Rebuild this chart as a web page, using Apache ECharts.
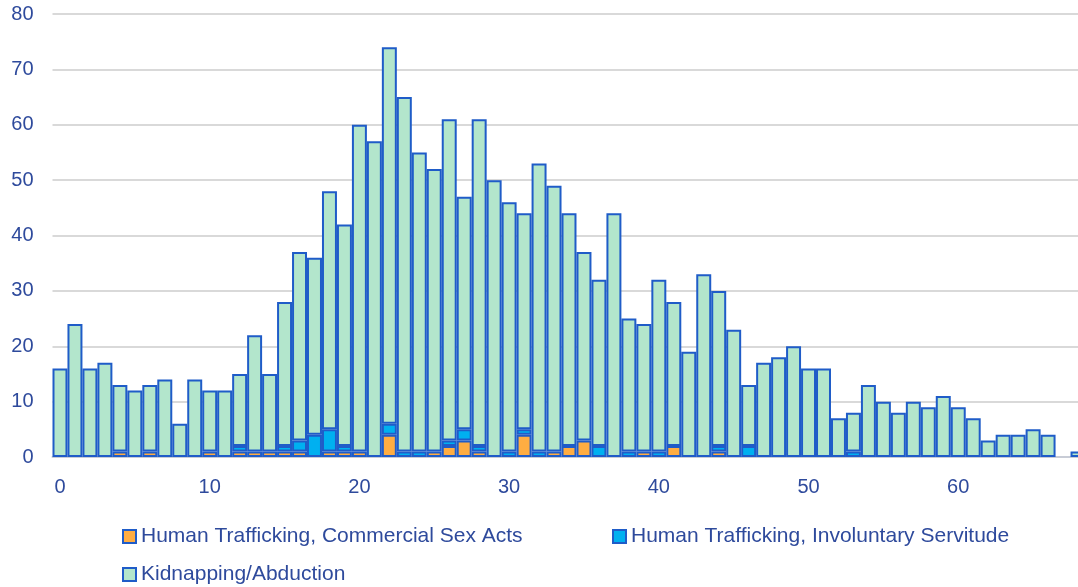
<!DOCTYPE html>
<html>
<head>
<meta charset="utf-8">
<script src="https://cdn.jsdelivr.net/npm/echarts@6/dist/echarts.min.js"></script>
<style>
html,body{margin:0;padding:0;background:#fff;overflow:hidden;width:1078px;height:587px;}
#chart{width:1090px;height:587px;}
</style>
</head>
<body>
<div id="chart"></div>
<script>
const ages = [];
for (let a = 0; a <= 68; a++) ages.push(String(a));
const xTickLabels = ['0', '10', '20', '30', '40', '50', '60'];
const seriesNames = ['Human Trafficking, Commercial Sex Acts', 'Human Trafficking, Involuntary Servitude', 'Kidnapping/Abduction'];
const sexActs = [0,0,0,0,1,0,1,0,0,0, 1,0,1,1,1,1,1,0,1,1, 1,0,4,0,0,1,2,3,1,0, 0,4,0,1,2,3,0,0,0,1, 0,2,0,0,1,0,0,0,0,0, 0,0,0,0,0,0,0,0,0,0, 0,0,0,0,0,0,0,0,0];
const servitude = [0,0,0,0,0,0,0,0,0,0, 0,0,1,0,0,1,2,4,4,1, 0,0,2,1,1,0,1,2,1,0, 1,1,1,0,0,0,2,0,1,0, 1,0,0,0,1,0,2,0,0,0, 0,0,0,1,0,0,0,0,0,0, 0,0,0,0,0,0,0,0,0];
const kidnapping = [16,24,16,17,12,12,12,14,6,14, 11,12,13,21,14,26,34,32,43,40, 59,57,68,64,54,51,58,42,59,50, 45,39,52,48,42,34,30,44,24,23, 31,26,19,33,28,23,11,17,18,20, 16,16,7,7,13,10,8,10,9,11, 9,7,3,4,4,5,4,0,1];

const colors = ['#FFAD42', '#00B0F0', '#B3E6CC'];
const borderColor = '#1F5CC8';
const textColor = '#2E4A9C';
const font = 'Liberation Sans, Arial, sans-serif';

const allData = [sexActs, servitude, kidnapping];

const chart = echarts.init(document.getElementById('chart'), null, {renderer: 'canvas'});
chart.setOption({
  animation: false,
  grid: {left: 52.5, width: 1033, top: 14, bottom: 130, containLabel: false},
  xAxis: {
    type: 'category', data: ages, boundaryGap: true,
    axisLine: {show: true, lineStyle: {color: '#c8ccd6', width: 2}},
    axisTick: {show: false},
    splitLine: {show: false},
    axisLabel: {
      interval: (idx, val) => xTickLabels.indexOf(val) >= 0,
      color: textColor, fontSize: 20, fontFamily: font, margin: 20
    }
  },
  yAxis: {
    type: 'value', min: 0, max: 80, interval: 10,
    axisLine: {show: false}, axisTick: {show: false},
    splitLine: {lineStyle: {color: '#d9d9d9', width: 2}},
    axisLabel: {color: textColor, fontSize: 20, fontFamily: font, margin: 19}
  },
  legend: seriesNames.map((n, i) => ({
    data: [n],
    left: i === 1 ? 607 : 117,
    top: i === 2 ? 559 : 521,
    itemWidth: 13, itemHeight: 13, icon: 'rect',
    textStyle: {color: textColor, fontSize: 21, fontFamily: font}
  })),
  series: seriesNames.map((n, i) => ({
    name: n, type: 'bar', stack: 'total',
    barCategoryGap: 0,
    data: allData[i].map(v => v === 0 ? '-' : v),
    itemStyle: {color: colors[i], borderColor: borderColor, borderWidth: 2}
  }))
});
</script>
</body>
</html>
